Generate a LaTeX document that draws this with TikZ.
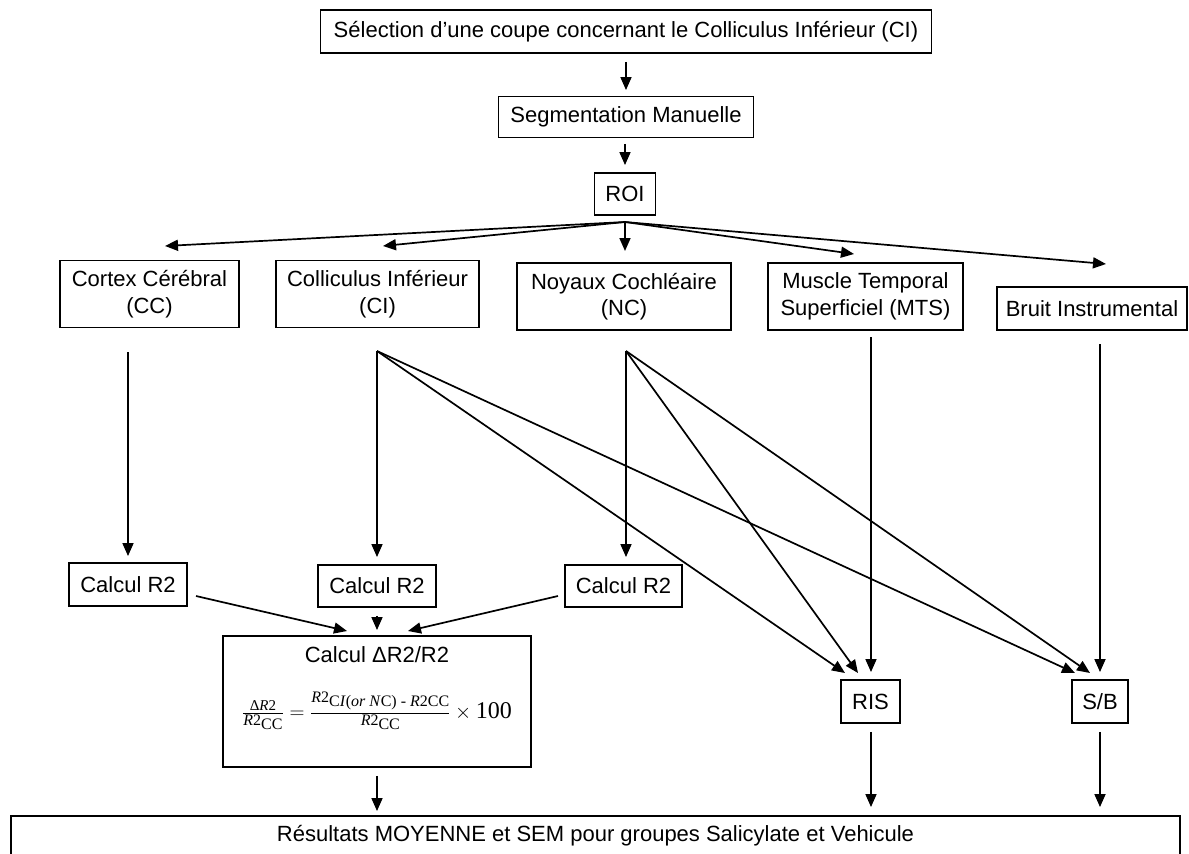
\documentclass[tikz,border=0pt]{standalone}
\usepackage{amsmath}
\usepackage{fontspec}
\setmainfont{Liberation Sans}
\newfontfamily\tms{Liberation Serif}
\usetikzlibrary{arrows.meta,calc}
\newcommand\lowr[1]{\raisebox{-4pt}{#1}}
\begin{document}
\begin{tikzpicture}[x=1pt,y=-1pt,
  box/.style={draw,line width=1.9pt,inner sep=0pt,align=center,font=\fontsize{22}{26.5}\selectfont},
  arr/.style={line width=1.7pt,-{Triangle[length=13pt,width=11pt]}}]
\useasboundingbox (0,0) rectangle (1189,854);
\clip (0,0) rectangle (1189,854);

% boxes
\node[box,minimum width=611pt,minimum height=43pt] (top) at (626,31.5) {Sélection d’une coupe concernant le Colliculus Inférieur (CI)};
\node[box,minimum width=255pt,minimum height=41pt] (seg) at (626,117) {Segmentation Manuelle};
\node[box,minimum width=61pt,minimum height=42pt] (roi) at (625,194) {ROI};
\node[box,minimum width=179pt,minimum height=67pt] (cc) at (149.5,294) {Cortex Cérébral\\(CC)};
\node[box,minimum width=203pt,minimum height=67pt] (ci) at (377.5,294) {Colliculus Inférieur\\(CI)};
\node[box,minimum width=214pt,minimum height=67pt] (nc) at (624,296.5) {Noyaux Cochléaire\\(NC)};
\node[box,minimum width=195pt,minimum height=67pt] (mts) at (865.5,296.5) {Muscle Temporal\\Superficiel (MTS)};
\node[box,minimum width=190pt,minimum height=43pt] (bruit) at (1092,308.5) {Bruit Instrumental};
\node[box,minimum width=118pt,minimum height=43pt] (r2a) at (128,584.5) {Calcul R2};
\node[box,minimum width=118pt,minimum height=42pt] (r2b) at (377,586) {Calcul R2};
\node[box,minimum width=117pt,minimum height=42pt] (r2c) at (623.5,586) {Calcul R2};
\node[box,minimum width=308pt,minimum height=131pt] (delta) at (377,701.5) {\parbox[c][109pt][t]{300pt}{\centering
  Calcul ΔR2/R2\par\vspace{29pt}%
  \smash{$\genfrac{}{}{0.8pt}{1}{\mbox{\fontsize{15}{15}\tms Δ\textit{R}2}}{\mbox{\fontsize{16}{16}\tms\textit{R}2\lowr{CC}}}
  = \genfrac{}{}{0.8pt}{1}{\mbox{\fontsize{16}{16}\tms\raisebox{0pt}[\height][9.5pt]{\textit{R}2\lowr{C\textit{I}(\textit{or N}C) - \textit{R}2CC}}}}{\mbox{\fontsize{16}{16}\tms\textit{R}2\lowr{CC}}}
  \times\mbox{\fontsize{24}{24}\tms 100}$}\par}};
\node[box,minimum width=59pt,minimum height=43pt] (ris) at (870.5,701.5) {RIS};
\node[box,minimum width=56pt,minimum height=43pt] (sb) at (1100,701.5) {S/B};
\node[box,minimum width=1169pt,minimum height=40pt] (res) at (595.5,836) {Résultats MOYENNE et SEM pour groupes Salicylate et Vehicule};

% coordinates
\coordinate (fan) at (625,222);
\coordinate (tcc) at (165,246);
\coordinate (tci) at (383,246);
\coordinate (tnc) at (625,251);
\coordinate (tmts) at (854,254);
\coordinate (tbruit) at (1106,264);
\coordinate (ccs) at (128,352);
\coordinate (cis) at (377,351);
\coordinate (ncs) at (626,351);
\coordinate (mtss) at (871,337);
\coordinate (bruits) at (1100,344);
\coordinate (ris1) at (845,673);
\coordinate (ris2) at (858,673);
\coordinate (sb1) at (1075,673);
\coordinate (sb2) at (1090,673);
\coordinate (r2aout) at (196,596);
\coordinate (din1) at (347,631);
\coordinate (r2cout) at (558,596);
\coordinate (din3) at (408,631);

% connectors
\draw[arr,shorten <=8pt,shorten >=5.5pt] (top.south -| seg.north) -- (seg.north);
\draw[arr,shorten <=5.5pt,shorten >=7pt] (seg.south -| roi.north) -- (roi.north);
\draw[arr] (fan) -- (tcc);
\draw[arr] (fan) -- (tci);
\draw[arr] (fan) -- (tnc);
\draw[arr] (fan) -- (tmts);
\draw[arr] (fan) -- (tbruit);

\draw[arr,shorten >=6pt] (ccs) -- (ccs |- r2a.north);
\draw[arr,shorten >=7pt] (cis) -- (cis |- r2b.north);
\draw[arr,shorten >=7pt] (ncs) -- (ncs |- r2c.north);
\draw[arr] (cis) -- (ris1);
\draw[arr] (cis) -- (sb1);
\draw[arr] (ncs) -- (ris2);
\draw[arr] (ncs) -- (sb2);
\draw[arr,shorten >=7pt] (mtss) -- (mtss |- ris.north);
\draw[arr,shorten >=7pt] (bruits) -- (bruits |- sb.north);

\draw[arr] (r2aout) -- (din1);
\draw[arr,shorten <=8pt,shorten >=5pt] (r2b.south) -- (r2b.south |- delta.north);
\draw[arr] (r2cout) -- (din3);

\draw[arr,shorten <=8pt,shorten >=4pt] (delta.south) -- (delta.south |- res.north);
\draw[arr,shorten <=8pt,shorten >=8pt] (ris.south -| mtss) -- (mtss |- res.north);
\draw[arr,shorten <=8pt,shorten >=8pt] (sb.south) -- (sb.south |- res.north);
\end{tikzpicture}
\end{document}
